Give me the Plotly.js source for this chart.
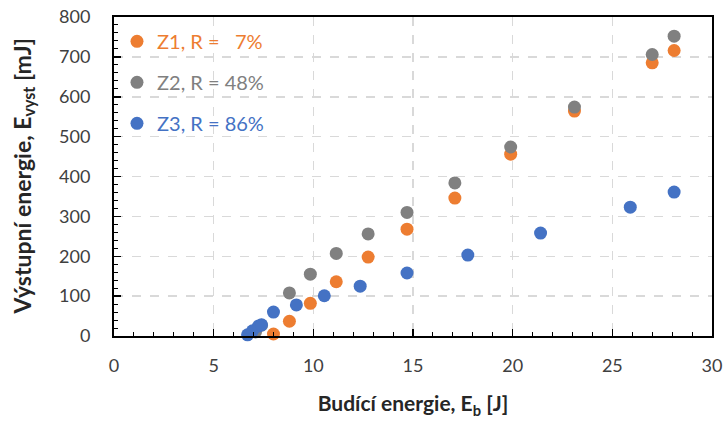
<!DOCTYPE html>
<html>
<head>
<meta charset="utf-8">
<script src="https://cdn.plot.ly/plotly-3.0.1.min.js"></script>
<style>html,body{margin:0;padding:0;background:#fff;}#chart{width:724px;height:423px;}</style>
</head>
<body>
<div id="chart"></div>
<script>
// Z1, R = 7%
const z1X = [8.0, 8.8, 9.85, 11.15, 12.75, 14.7, 17.1, 19.9, 23.1, 27.0, 28.1];
const z1Y = [5, 37, 82, 136, 198, 268, 346, 456, 564, 685, 716];
// Z2, R = 48%
const z2X = [7.1, 7.4, 8.8, 9.85, 11.15, 12.75, 14.7, 17.1, 19.9, 23.1, 27.0, 28.1];
const z2Y = [10, 27, 108, 155, 207, 256, 310, 384, 474, 574, 706, 752];
// Z3, R = 86%
const z3X = [6.7, 6.95, 7.25, 7.4, 8.0, 9.15, 10.55, 12.35, 14.7, 17.75, 21.4, 25.9, 28.1];
const z3Y = [3, 13, 25, 28, 60, 78, 101, 125, 158, 203, 258, 323, 361];

const names = ['Z1, R =\u00a0\u00a0\u00a07%', 'Z2, R = 48%', 'Z3, R = 86%'];
const colors = ['#ED7D31', '#808080', '#4472C4'];
const xTicks = [0, 5, 10, 15, 20, 25, 30];
const yTicks = [0, 100, 200, 300, 400, 500, 600, 700, 800];
const xTitle = '<b>Budící energie, E<sub>b</sub> [J]</b>';
const yTitle = '<b>Výstupní energie, E<sub>vyst</sub> [mJ]</b>';

const series = [[z1X, z1Y], [z2X, z2Y], [z3X, z3Y]];
const traces = series.map((s, i) => ({
  type: 'scatter', mode: 'markers', x: s[0], y: s[1],
  name: '<span style="color:' + colors[i] + '">' + names[i] + '</span>',
  legendgroup: 'g' + i,
  cliponaxis: false,
  marker: {color: colors[i], size: 13}
}));

const fontFam = 'Lato, "Open Sans", sans-serif';
const layout = {
  width: 724, height: 423,
  margin: {l: 114, r: 12, t: 17, b: 87},
  paper_bgcolor: '#fff', plot_bgcolor: '#fff',
  font: {family: fontFam, color: '#404040', size: 18},
  showlegend: true,
  legend: {x: 0.005, y: 0.985, xanchor: 'left', yanchor: 'top', bgcolor: 'rgba(0,0,0,0)',
           font: {size: 20}, tracegroupgap: 12, itemwidth: 30},
  xaxis: {
    range: [0, 30], tickvals: xTicks, ticktext: xTicks.map(String),
    showline: true, linecolor: '#000', linewidth: 2, mirror: true,
    ticks: 'inside', ticklen: 7, tickwidth: 1.5, tickcolor: '#000',
    minor: {ticks: 'inside', dtick: 1, ticklen: 4, tickwidth: 1, tickcolor: '#000', showgrid: false},
    showgrid: true, gridcolor: '#D9D9D9', gridwidth: 1.5, griddash: 'dash',
    zeroline: false, tickfont: {size: 18, color: '#404040'}, ticklabelstandoff: 12,
    title: {text: xTitle, font: {size: 21, color: '#262626'}, standoff: 22}
  },
  yaxis: {
    range: [0, 800], tickvals: yTicks, ticktext: yTicks.map(String),
    showline: true, linecolor: '#000', linewidth: 2, mirror: true,
    ticks: 'inside', ticklen: 7, tickwidth: 1.5, tickcolor: '#000',
    minor: {ticks: 'inside', dtick: 20, ticklen: 4, tickwidth: 1, tickcolor: '#000', showgrid: false},
    showgrid: true, gridcolor: '#D9D9D9', gridwidth: 1.5, griddash: 'dash',
    zeroline: false, tickfont: {size: 18, color: '#404040'}, ticklabelstandoff: 18,
    title: {text: ''}
  },
  annotations: [{
    text: yTitle, xref: 'paper', yref: 'paper', x: 0, y: 0.5,
    xanchor: 'center', yanchor: 'middle', xshift: -91, textangle: -90,
    showarrow: false, font: {size: 23, color: '#262626', family: fontFam}
  }]
};
Plotly.newPlot('chart', traces, layout, {displayModeBar: false, staticPlot: true});
</script>
</body>
</html>
